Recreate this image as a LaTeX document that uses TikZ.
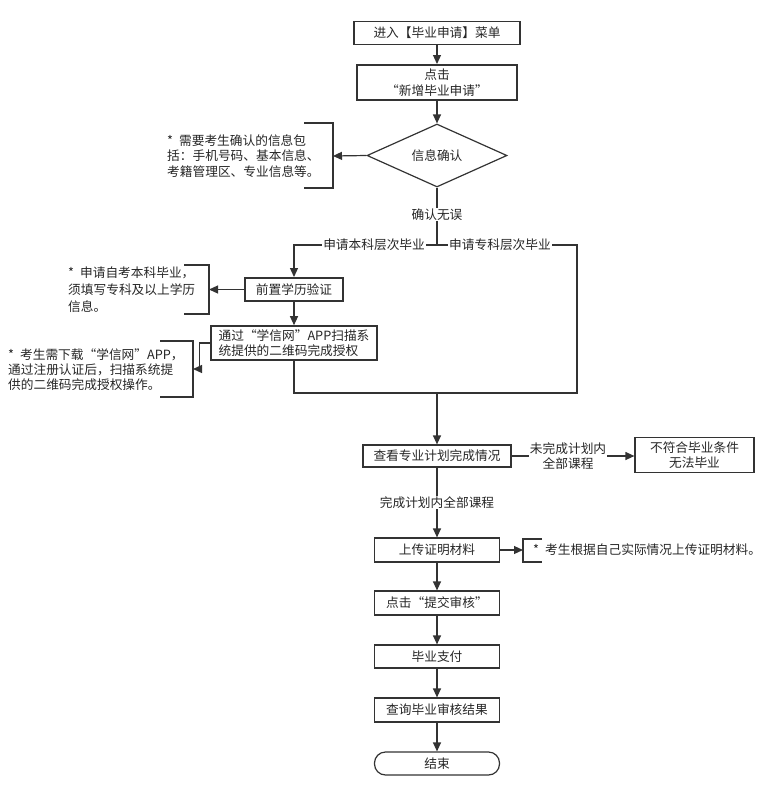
\documentclass[tikz,border=0pt]{standalone}
\usepackage{fontspec}
\setmainfont{Noto Sans CJK SC}
\usetikzlibrary{shapes.geometric,arrows.meta}

\begin{document}
\begin{tikzpicture}[x=1pt,y=-1pt,
  every node/.style={font=\fontsize{12.7}{15.5}\selectfont,text=black!85},
  box/.style={draw=black!80,line width=1.2pt,inner sep=0pt,minimum height=23pt,align=center},
  thickbox/.style={box,line width=2pt},
  decision/.style={diamond,draw=black!80,line width=1.2pt,inner sep=0pt,minimum width=140pt,minimum height=63pt},
  note/.style={anchor=west,align=left,inner sep=0pt},
  lbl/.style={fill=white,inner sep=1pt,align=center},
  conn/.style={draw=black!80,line width=1.2pt},
  arr/.style={conn,-{Triangle[length=9pt,width=8pt]}}]
\useasboundingbox (0,0) rectangle (779,793);

% main column
\node[box,minimum width=166pt] (menu) at (437,33) {进入【毕业申请】菜单};
\node[thickbox,minimum width=160pt,minimum height=35pt] (newapp) at (437,82.5) {点击\\“新增毕业申请”};
\node[decision] (check) at (437,155.5) {信息确认};
\node[thickbox,minimum width=98pt] (pre) at (294,289.5) {前置学历验证};
\node[thickbox,line width=1.6pt,minimum width=166pt,minimum height=34pt,align=left] (scan) at (294,343)
  {通过“学信网”APP扫描系\\统提供的二维码完成授权};
\node[box,minimum width=148pt,minimum height=22pt] (plan) at (437,456) {查看专业计划完成情况};
\node[box,minimum width=119pt,minimum height=35pt] (fail) at (694.5,455) {不符合毕业条件\\无法毕业};
\node[box,minimum width=125pt,minimum height=24pt] (upload) at (437,550) {上传证明材料};
\node[box,minimum width=125pt,minimum height=24pt] (submit) at (437,603) {点击“提交审核”};
\node[box,minimum width=125pt] (pay) at (437,656.5) {毕业支付};
\node[box,minimum width=125pt,minimum height=24pt] (query) at (437,710) {查询毕业审核结果};
\node[box,minimum width=125pt,rounded corners=11pt] (end) at (437,763.5) {结束};

% notes
\node[note] (note1) at (167,156) {*\hspace{6pt}需要考生确认的信息包\\括：手机号码、基本信息、\\考籍管理区、专业信息等。};
\node[note,font=\fontsize{12.7}{17}\selectfont] (note2) at (68,290) {*\hspace{6pt}申请自考本科毕业，\\须填写专科及以上学历\\信息。};
\node[note,font=\fontsize{12.7}{15}\selectfont] (note3) at (8,370) {*\hspace{6pt}考生需下载“学信网”APP，\\通过注册认证后，扫描系统提\\供的二维码完成授权操作。};
\node[note] (note4) at (533,550) {*\hspace{6pt}考生根据自己实际情况上传证明材料。};

\coordinate (split) at (437,245);
\coordinate (rc) at (577,393);
\coordinate (join) at (437,393);
\coordinate (b1) at (333,156);
\coordinate (b2) at (209,289.5);
\coordinate (b3) at (193,369);
\coordinate (b4) at (523,550);

% brackets
\draw[conn] (304,123) -| (b1) |- (304,188);
\draw[conn] (184,265) -| (b2) |- (184,314);
\draw[conn] (160,341) -| (b3) |- (160,397);
\draw[conn] (542,539) -| (b4) |- (542,562);

% connectors
\draw[arr] (menu) -- (newapp);
\draw[arr] (newapp) -- (check);
\draw[arr] (check.west) -- (b1);
\draw[conn] (check.south) -- node[lbl,pos=0.47] {确认无误} (split);
\draw[arr] (split) -| node[lbl,pos=0.22] {申请本科层次毕业} (pre.north);
\draw[conn] (split) -| node[lbl,pos=0.225] {申请专科层次毕业} (rc) -- (join);
\draw[arr] (pre.west) -- (b2);
\draw[arr] (pre) -- (scan);
\draw[arr] (scan.west) -- ++(-11,0) |- (b3);
\draw[conn] (scan.south) |- (join);
\draw[arr] (join) -- (plan.north);
\draw[arr] (plan.east) -- node[lbl,pos=0.46] {未完成计划内\\全部课程} (plan.east -| fail.west);
\draw[arr] (plan) -- node[lbl] {完成计划内全部课程} (upload);
\draw[arr] (upload.east) -- (b4);
\draw[arr] (upload) -- (submit);
\draw[arr] (submit) -- (pay);
\draw[arr] (pay) -- (query);
\draw[arr] (query) -- (end);
\end{tikzpicture}
\end{document}
